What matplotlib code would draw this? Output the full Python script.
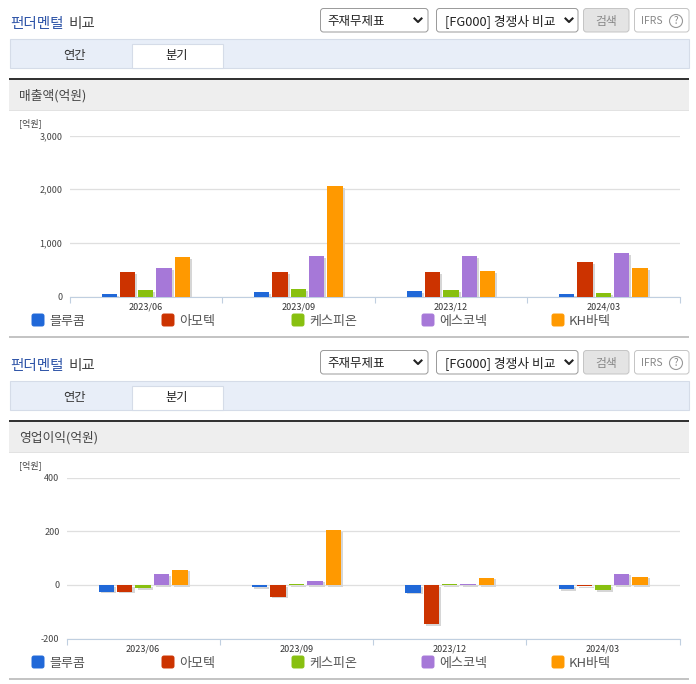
import matplotlib
matplotlib.use('Agg')
import matplotlib.pyplot as plt
import matplotlib.patheffects as pe
from matplotlib.patches import Rectangle, FancyBboxPatch, Circle

plt.rcParams['font.family'] = ['Noto Sans CJK KR', 'DejaVu Sans']

W, H = 696, 684

quarters = ['2023/06', '2023/09', '2023/12', '2024/03']
companies = ['블루콤', '아모텍', '케스피온', '에스코넥', 'KH바텍']
colors = ['#2068d8', '#cc3300', '#88c010', '#a678d8', '#ff9900']

sales = [
    [50, 81, 105, 50],
    [460, 460, 460, 646],
    [118, 143, 118, 68],
    [534, 757, 757, 813],
    [740, 2062, 478, 534],
]
profit = [
    [-25, -7, -29, -15],
    [-25, -44, -145, -3],
    [-11, 3, 3, -19],
    [39, 16, 5, 42],
    [57, 205, 27, 31],
]
sales_ticks = [0, 1000, 2000, 3000]
profit_ticks = [-200, 0, 200, 400]
legend_x = [32, 162, 292, 422, 552]

fig = plt.figure(figsize=(W / 100, H / 100), dpi=100)

# whole figure in pixel coordinates for the page parts
bg = fig.add_axes([0, 0, 1, 1])
bg.set_xlim(0, W)
bg.set_ylim(H, 0)
bg.axis('off')


def box(x0, y0, x1, y1, face, edge='none', lw=0.8):
    bg.add_patch(Rectangle((x0, y0), x1 - x0, y1 - y0, fc=face, ec=edge, lw=lw))


def rbox(x0, y0, x1, y1, face, edge, r=3, lw=0.7):
    bg.add_patch(FancyBboxPatch((x0 + r, y0 + r), x1 - x0 - 2 * r, y1 - y0 - 2 * r,
                                boxstyle='round,pad=%d,rounding_size=%d' % (r, r),
                                fc=face, ec=edge, lw=lw))


def chevron(x, y):
    bg.plot([x - 3.5, x, x + 3.5], [y - 1.5, y + 2, y - 1.5], color='#222222', lw=1.5)


def panel(dy, title):
    bg.text(10, 24 + dy, '펀더멘털', color='#2f55a8', fontsize=10.5, fontweight='medium', va='center')
    bg.text(69, 24 + dy, '비교', color='#444444', fontsize=10.5, fontweight='medium', va='center')

    rbox(320.5, 8.5 + dy, 428, 32 + dy, 'white', '#999999')
    bg.text(327, 21 + dy, '주재무제표', color='#222222', fontsize=9, va='center')
    chevron(418, 20 + dy)
    rbox(436.5, 8.5 + dy, 578, 32 + dy, 'white', '#999999')
    bg.text(445, 21 + dy, '[FG000] 경쟁사 비교', color='#222222', fontsize=9.2, va='center')
    chevron(569, 20 + dy)
    rbox(583.5, 8.5 + dy, 629, 32 + dy, '#e4e4e4', '#c4c4c4')
    bg.text(606, 21 + dy, '검색', color='#888888', fontsize=8.5, ha='center', va='center')
    rbox(634.5, 8.5 + dy, 689, 32 + dy, 'white', '#c4c4c4')
    bg.text(641, 20.5 + dy, 'IFRS', color='#888888', fontsize=7.5, va='center')
    bg.add_patch(Circle((676, 21 + dy), 6.5, fc='white', ec='#999999', lw=0.8))
    bg.text(676, 21 + dy, '?', color='#888888', fontsize=7, ha='center', va='center')

    box(9.5, 38.5 + dy, 689, 67.5 + dy, '#e8eef8', '#d5dce8')
    box(131.5, 43.5 + dy, 222.5, 67.5 + dy, 'white', '#d5dce8')
    bg.text(74, 55 + dy, '연간', color='#333333', fontsize=8.8, ha='center', va='center')
    bg.text(177, 55 + dy, '분기', color='#222222', fontsize=8.8, ha='center', va='center')

    box(9, 80 + dy, 689, 110 + dy, '#eeeeee')
    box(9, 78 + dy, 689, 80 + dy, '#333333')
    box(9, 110 + dy, 689, 111 + dy, '#e2e2e2')
    bg.text(19, 96 + dy, title, color='#444444', fontsize=9.2, va='center')
    bg.text(19, 123 + dy, '[억원]', color='#444444', fontsize=6.5, va='center')

    for name, c, x in zip(companies, colors, legend_x):
        rbox(x, 314 + dy, x + 12, 326 + dy, c, c, r=2)
        bg.text(x + 17, 321 + dy, name, color='#555555', fontsize=9.4, va='center')
    box(9, 336 + dy, 689, 338 + dy, '#c4c4c4')


def chart(series, ticks, left, top, bottom):
    ax = fig.add_axes([left / W, 1 - bottom / H, (679.7 - left) / W, (bottom - top) / H])
    ax.patch.set_alpha(0)
    shadow = [pe.SimplePatchShadow(offset=(1.5, -1.3), shadow_rgbFace='#d6d6d6', alpha=1), pe.Normal()]
    for i, vals in enumerate(series):
        xs = [q + (i - 2) * 0.12 for q in range(len(quarters))]
        ax.bar(xs, vals, width=0.1, color=colors[i], path_effects=shadow, zorder=3)
    ax.set_xlim(-0.5, 3.5)
    ax.set_ylim(ticks[0], ticks[-1])
    ax.set_yticks(ticks)
    ax.set_yticklabels([format(t, ',') for t in ticks], fontsize=6.5, color='#444444')
    ax.set_xticks(range(len(quarters)))
    ax.set_xticklabels(quarters, fontsize=6.5, color='#333333')
    ax.set_xticks([-0.5, 0.5, 1.5, 2.5, 3.5], minor=True)
    ax.tick_params(axis='x', which='major', length=0, pad=4.5)
    ax.tick_params(axis='x', which='minor', length=4, color='#c0cfe0', width=0.8)
    ax.tick_params(axis='y', length=0, pad=5)
    ax.grid(axis='y', color='#dfdfdf', lw=0.9, zorder=0)
    ax.set_axisbelow(True)
    for s in ['top', 'left', 'right']:
        ax.spines[s].set_visible(False)
    ax.spines['bottom'].set_color('#c0cfe0')
    return ax


panel(0, '매출액(억원)')
panel(342, '영업이익(억원)')
chart(sales, sales_ticks, 69.5, 135.5, 296.5)
chart(profit, profit_ticks, 66.5, 477.7, 638.5)

fig.savefig('out.png', dpi=100)
